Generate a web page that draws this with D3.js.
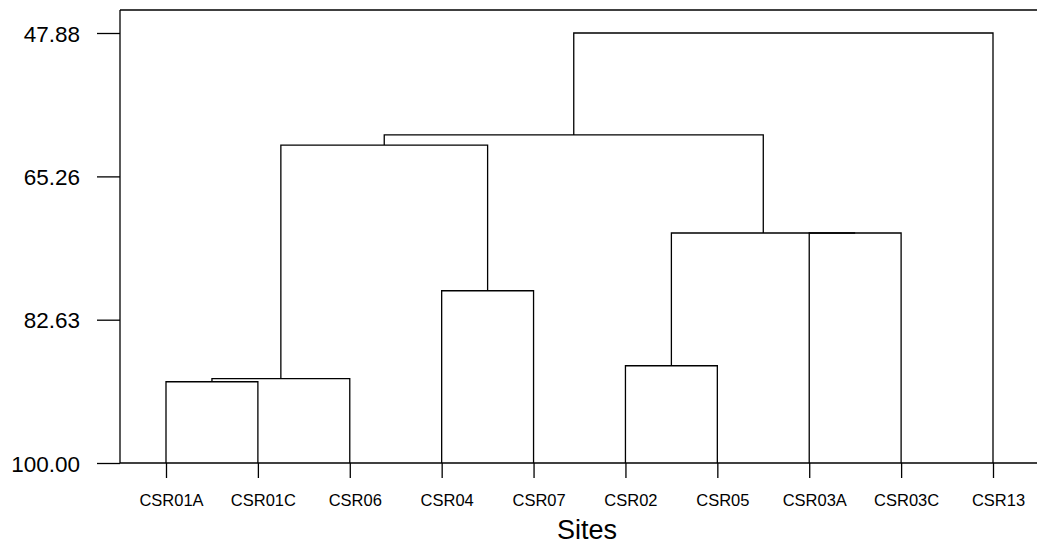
<!DOCTYPE html>
<html>
<head>
<meta charset="utf-8">
<title>Dendrogram - Sites</title>
<script src="https://cdn.jsdelivr.net/npm/d3@7"></script>
<style>
	body { margin: 0; background: #fff; }
	text { font-family: "Liberation Sans", Arial, sans-serif; fill: #000; }
</style>
</head>
<body>
<div id="chart-area"></div>
<script>
/******************************
*			DATA			  *
******************************/
// leaves, left to right
var sites = ["CSR01A", "CSR01C", "CSR06", "CSR04", "CSR07",
			 "CSR02", "CSR05", "CSR03A", "CSR03C", "CSR13"];

// linkage: [a, b, similarity]; ids 0-9 are sites, 10+ are earlier merges
var merges = [
	[0, 1, 90.15],		// 10
	[10, 2, 89.78],		// 11
	[3, 4, 79.12],		// 12
	[11, 12, 61.46],	// 13
	[5, 6, 88.21],		// 14
	[7, 8, 72.12],		// 15
	[14, 15, 72.12],	// 16
	[13, 16, 60.24],	// 17
	[17, 9, 47.88]		// 18
];

var yTicks = [47.88, 65.26, 82.63, 100.00];

/******************************
*	DIMENSIONS AND MARGINS	  *
******************************/
var W = 1037, H = 547;
var axisX = 120, topY = 10, baseY = 463;

var svg = d3.select("#chart-area")
	.append("svg")
		.attr("width", W)
		.attr("height", H);

// scales
var x = d3.scalePoint()
	.domain(sites)
	.range([166, 993]);

var y = d3.scaleLinear()
	.domain([47.88, 100])
	.range([33, baseY]);

var lineStyle = function(sel) {
	sel.attr("stroke", "#000")
		.attr("stroke-width", 1.3)
		.attr("fill", "none");
};

/******************************
*			FRAME			  *
******************************/
svg.append("line")
	.attr("x1", axisX).attr("x2", W)
	.attr("y1", topY).attr("y2", topY)
	.call(lineStyle);

svg.append("line")
	.attr("x1", axisX).attr("x2", axisX)
	.attr("y1", topY).attr("y2", baseY)
	.call(lineStyle);

/******************************
*			Y-AXIS			  *
******************************/
var yAxisCall = d3.axisLeft(y)
	.tickValues(yTicks)
	.tickSize(23)
	.tickPadding(17)
	.tickFormat(d3.format(".2f"));

var yAxisGroup = svg.append("g")
	.attr("transform", "translate(" + axisX + ",0)")
	.call(yAxisCall);

yAxisGroup.select(".domain").remove();
yAxisGroup.selectAll("line").call(lineStyle);
yAxisGroup.selectAll("text")
	.attr("font-size", "22.5px")
	.attr("font-family", null)
	.attr("dy", "0.36em");

/******************************
*			X-AXIS			  *
******************************/
svg.append("line")
	.attr("x1", axisX).attr("x2", W)
	.attr("y1", baseY).attr("y2", baseY)
	.call(lineStyle);

var xAxisCall = d3.axisBottom(x)
	.tickSize(15)
	.tickPadding(16);

var xAxisGroup = svg.append("g")
	.attr("transform", "translate(0," + baseY + ")")
	.call(xAxisCall);

xAxisGroup.select(".domain").remove();
xAxisGroup.selectAll("line").call(lineStyle);
xAxisGroup.selectAll("text")
	.attr("font-size", "16.5px")
	.attr("font-family", null)
	.attr("dx", 5);

// x-label
svg.append("text")
	.attr("x", 587)
	.attr("y", 539)
	.attr("text-anchor", "middle")
	.attr("font-size", "27px")
	.text("Sites");

/******************************
*		DENDROGRAM LINKS	  *
******************************/
// position of every node: leaves first, then each merge
var nodes = sites.map(function(s) { return { x: x(s), h: 100 }; });
merges.forEach(function(m) {
	var a = nodes[m[0]], b = nodes[m[1]];
	nodes.push({ x: (a.x + b.x) / 2, h: m[2], a: a, b: b });
});

var links = svg.append("g");

nodes.filter(function(n) { return n.a; }).forEach(function(n) {
	var path = d3.path();
	path.moveTo(n.a.x, y(n.a.h));
	path.lineTo(n.a.x, y(n.h));
	path.lineTo(n.b.x, y(n.h));
	path.lineTo(n.b.x, y(n.b.h));
	links.append("path")
		.attr("d", path.toString())
		.call(lineStyle);
});
</script>
</body>
</html>
